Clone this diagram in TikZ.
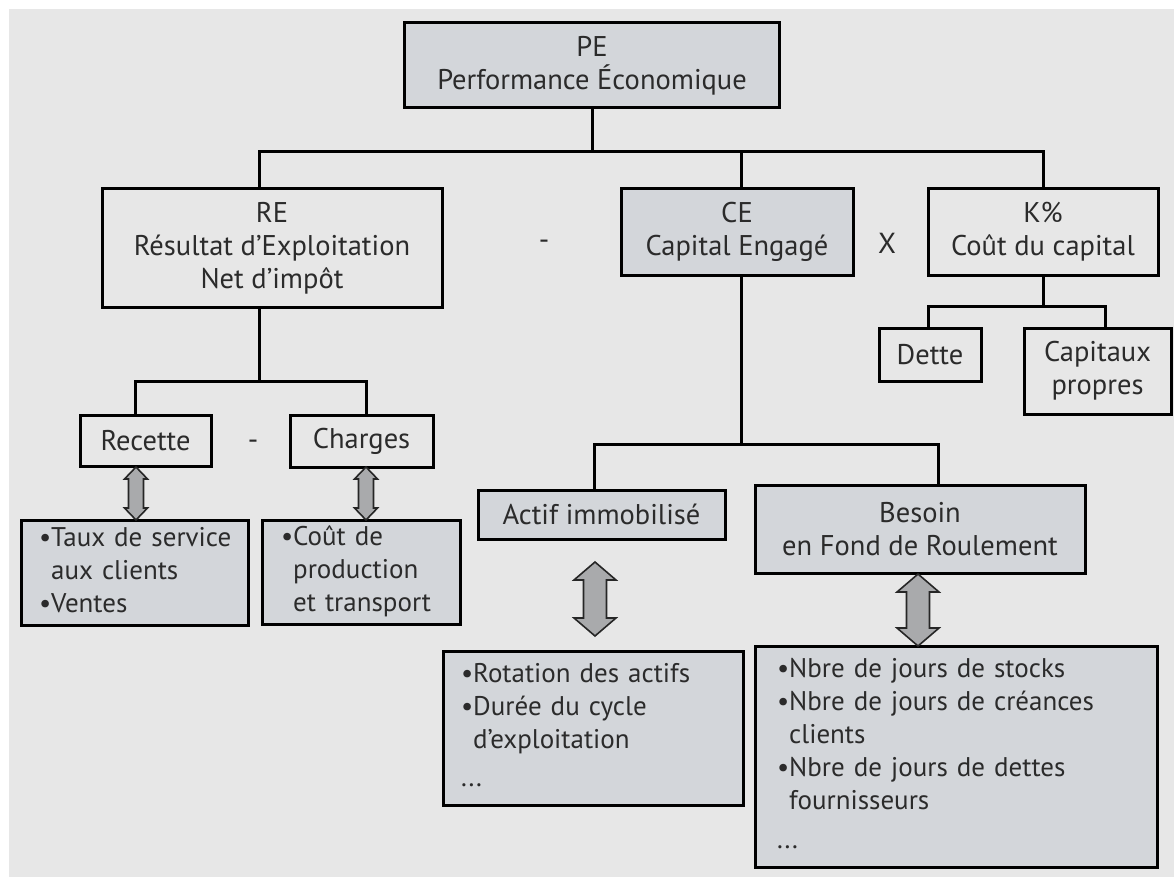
\documentclass[tikz,border=0pt]{standalone}
\usepackage{fontspec}
\setmainfont{PT Sans}
\definecolor{bg}{HTML}{E7E7E7}
\definecolor{boxg}{HTML}{D3D6DA}
\definecolor{arrg}{HTML}{A9AAAC}
\definecolor{txt}{HTML}{2B2B2B}
\tikzset{
  box/.style={draw=black, line width=3pt, inner sep=0pt, align=center, text=txt,
    font=\fontsize{28.5}{33}\selectfont},
  gbox/.style={box, fill=boxg},
  wbox/.style={box, fill=bg},
  lbox/.style={gbox, align=left, font=\fontsize{27}{33}\selectfont},
  conn/.style={line width=3pt, draw=black},
  dblarrow/.style={fill=arrg, draw=black!85, line width=1.6pt, line join=miter},
  op/.style={text=txt, inner sep=0pt, font=\fontsize{29}{33}\selectfont}
}
\newcommand\dblarr[6]{% x, ytop, ybot, shaft half, head half, head length
  \filldraw[dblarrow] (#1,#2) -- (#1+#5,#2+#6) -- (#1+#4,#2+#6) -- (#1+#4,#3-#6)
    -- (#1+#5,#3-#6) -- (#1,#3) -- (#1-#5,#3-#6) -- (#1-#4,#3-#6)
    -- (#1-#4,#2+#6) -- (#1-#5,#2+#6) -- cycle;}
\begin{document}
\begin{tikzpicture}[x=1pt, y=-1pt]
\useasboundingbox (0,0) rectangle (1174,877);
\fill[white] (0,0) rectangle (1174,877);
\fill[bg] (9,9) rectangle (1174,877);

% level 0
\node[gbox, minimum width=375pt, minimum height=85pt] (PE) at (592,65.5) {PE\\Performance Économique};

% level 1
\node[wbox, minimum width=340pt, minimum height=118pt] (RE) at (272,248) {RE\\Résultat d’Exploitation\\Net d’impôt};
\node[gbox, minimum width=232pt, minimum height=86pt] (CE) at (737,232) {CE\\Capital Engagé};
\node[wbox, minimum width=230pt, minimum height=86pt] (K) at (1043,232) {K\%\\Coût du capital};
\node[op] (m1) at (544,245) {-};
\node[op] (x1) at (887,243) {X};

% level 2
\node[wbox, minimum width=131pt, minimum height=51pt] (Rec) at (145.5,440.5) {Recette};
\node[wbox, minimum width=143pt, minimum height=52pt] (Cha) at (361.5,441) {Charges};
\node[op] (m2) at (253,445) {-};
\node[wbox, minimum width=102pt, minimum height=53pt] (Det) at (930,354.5) {Dette};
\node[wbox, minimum width=147pt, minimum height=86pt] (Cap) at (1097.5,371) {Capitaux\\propres};
\node[gbox, minimum width=247pt, minimum height=49pt] (Act) at (601.5,514.5) {Actif immobilisé};
\node[gbox, minimum width=330pt, minimum height=88pt] (BFR) at (920,529) {Besoin\\en Fond de Roulement};

% level 3 (detail boxes)
\node[lbox, text width=191pt, inner xsep=18pt, minimum height=105pt] (Tau) at (134.5,572.5)
  {\begin{tabular}{@{}l@{}}•Taux de service\\\phantom{•}aux clients\\•Ventes\end{tabular}};
\node[lbox, text width=160pt, inner xsep=19pt, minimum height=104pt] (Cou) at (361,572)
  {\begin{tabular}{@{}l@{}}•Coût de\\\phantom{•}production\\\phantom{•}et transport\end{tabular}};
\node[lbox, text width=264pt, inner xsep=18pt, minimum height=154pt] (Rot) at (593,728)
  {\begin{tabular}{@{}l@{}}•Rotation des actifs\\•Durée du cycle\\\phantom{•}d’exploitation\\[5pt]...\end{tabular}};
\node[lbox, text width=358pt, inner xsep=22pt, minimum height=221pt] (Nbr) at (956,756.5)
  {\begin{tabular}{@{}l@{}}•Nbre de jours de stocks\\•Nbre de jours de créances\\\phantom{•}clients\\•Nbre de jours de dettes\\\phantom{•}fournisseurs\\[6pt]...\end{tabular}};

% connectors level 0 -> 1
\coordinate (j1) at (0,152);
\draw[conn] (PE.south) -- (PE.south |- j1);
\draw[conn] ([xshift=-13pt]RE.north) |- (K.north |- j1) -- (K.north);
\draw[conn] ([xshift=4pt]CE.north) -- ([xshift=4pt]CE.north |- j1);

% RE -> Recette / Charges
\coordinate (j2) at (0,381);
\draw[conn] ([xshift=-13pt]RE.south) -- ([xshift=-13pt]RE.south |- j2);
\draw[conn] ([xshift=-10.5pt]Rec.north) |- ([xshift=4.5pt]Cha.north |- j2) -- ([xshift=4.5pt]Cha.north);

% CE -> Actif / BFR
\coordinate (j3) at (0,444);
\draw[conn] ([xshift=4pt]CE.south) -- ([xshift=4pt]CE.south |- j3);
\draw[conn] ([xshift=-7.5pt]Act.north) |- ([xshift=18pt]BFR.north |- j3) -- ([xshift=18pt]BFR.north);

% K -> Dette / Capitaux
\coordinate (j4) at (0,306);
\draw[conn] (K.south) -- (K.south |- j4);
\draw[conn] ([xshift=-2pt]Det.north) |- ([xshift=7.5pt]Cap.north |- j4) -- ([xshift=7.5pt]Cap.north);

% double arrows
\dblarr{136}{467}{520}{7.5}{11.5}{12}
\dblarr{366}{467}{520}{7.5}{11.5}{12}
\dblarr{595}{562}{636}{11.5}{21}{18}
\dblarr{918}{574}{646}{11.5}{21}{18}
\end{tikzpicture}
\end{document}
